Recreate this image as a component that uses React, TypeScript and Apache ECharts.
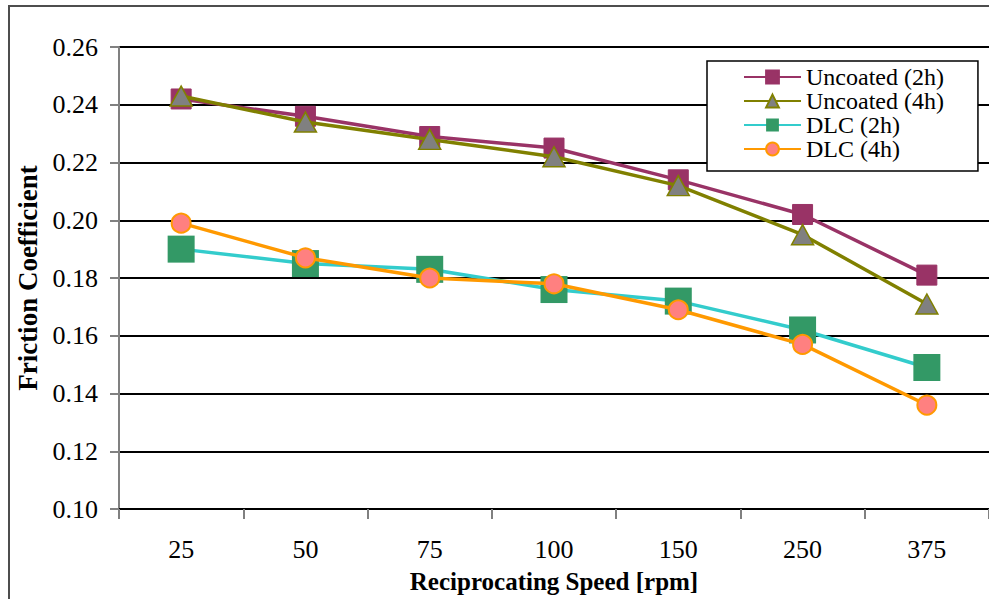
import React, { useEffect, useRef } from "react";
import * as echarts from "echarts";

const categories = ["25", "50", "75", "100", "150", "250", "375"];
const uncoated2h = [0.242, 0.236, 0.229, 0.225, 0.214, 0.202, 0.181];
const uncoated4h = [0.243, 0.234, 0.228, 0.222, 0.212, 0.195, 0.171];
const dlc2h = [0.19, 0.185, 0.183, 0.176, 0.172, 0.162, 0.149];
const dlc4h = [0.199, 0.187, 0.18, 0.178, 0.169, 0.157, 0.136];

const FONT = "Liberation Serif";

export default function App() {
  const ref = useRef<HTMLDivElement>(null);
  useEffect(() => {
    if (!ref.current) return;
    const chart = echarts.init(ref.current, null, { renderer: "svg" });
    chart.setOption({
      animation: false,
      backgroundColor: "#ffffff",
      textStyle: { fontFamily: FONT },
      grid: { left: 119, top: 47, right: -4, bottom: 89, containLabel: false },
      xAxis: {
        type: "category",
        data: categories,
        boundaryGap: true,
        axisLine: { show: true, lineStyle: { color: "#000", width: 2 } },
        axisTick: { show: true, length: 10, lineStyle: { color: "#808080", width: 2 } },
        axisLabel: { color: "#000", fontSize: 26, fontFamily: FONT, margin: 27 },
        name: "Reciprocating Speed [rpm]",
        nameLocation: "middle",
        nameGap: 60,
        nameTextStyle: { color: "#000", fontSize: 25, fontWeight: "bold", fontFamily: FONT },
      },
      yAxis: {
        type: "value",
        min: 0.1,
        max: 0.26,
        interval: 0.02,
        axisLine: { show: true, lineStyle: { color: "#808080", width: 2 } },
        axisTick: { show: true, length: 9, lineStyle: { color: "#808080", width: 2 } },
        axisLabel: {
          color: "#000",
          fontSize: 26,
          fontFamily: FONT,
          margin: 21,
          formatter: (v: number) => v.toFixed(2),
        },
        splitLine: { show: true, lineStyle: { color: "#000", width: 2 } },
        name: "Friction Coefficient",
        nameLocation: "middle",
        nameGap: 77,
        nameRotate: 90,
        nameTextStyle: { color: "#000", fontSize: 27, fontWeight: "bold", fontFamily: FONT },
      },
      legend: {
        show: true,
        orient: "vertical",
        left: 707,
        top: 61,
        padding: [4, 34, 10, 36],
        itemGap: 0,
        itemWidth: 57,
        itemHeight: 16,
        backgroundColor: "#fff",
        borderColor: "#000",
        borderWidth: 1.5,
        borderRadius: 0,
        textStyle: { color: "#000", fontSize: 24, lineHeight: 23, fontFamily: FONT },
        data: ["Uncoated (2h)", "Uncoated (4h)", "DLC (2h)", "DLC (4h)"],
      },
      series: [
        {
          name: "Uncoated (2h)",
          type: "line",
          data: uncoated2h,
          symbol: "rect",
          symbolSize: 20,
          lineStyle: { color: "#993366", width: 3.5 },
          itemStyle: { color: "#993366", borderColor: "#993366", borderWidth: 1 },
          z: 2,
        },
        {
          name: "Uncoated (4h)",
          type: "line",
          data: uncoated4h,
          symbol: "triangle",
          symbolSize: [22, 20],
          lineStyle: { color: "#808000", width: 3.5 },
          itemStyle: { color: "#808080", borderColor: "#808000", borderWidth: 1.5 },
          z: 3,
        },
        {
          name: "DLC (2h)",
          type: "line",
          data: dlc2h,
          symbol: "rect",
          symbolSize: 27,
          lineStyle: { color: "#33CCCC", width: 3.5 },
          itemStyle: { color: "#339966", borderColor: "#339966", borderWidth: 0 },
          z: 4,
        },
        {
          name: "DLC (4h)",
          type: "line",
          data: dlc4h,
          symbol: "circle",
          symbolSize: 19,
          lineStyle: { color: "#FF9900", width: 3.5 },
          itemStyle: { color: "#FF8080", borderColor: "#FF9900", borderWidth: 2 },
          z: 5,
        },
      ],
      graphic: [
        {
          type: "rect",
          shape: { x: 9, y: 6, width: 1000, height: 640 },
          style: { fill: "none", stroke: "#4d4d4d", lineWidth: 2 },
          silent: true,
          z: 100,
        },
      ],
    });
    return () => chart.dispose();
  }, []);
  return (
    <div
      ref={ref}
      style={{ position: "fixed", left: 0, top: 0, width: 989, height: 599 }}
    />
  );
}
